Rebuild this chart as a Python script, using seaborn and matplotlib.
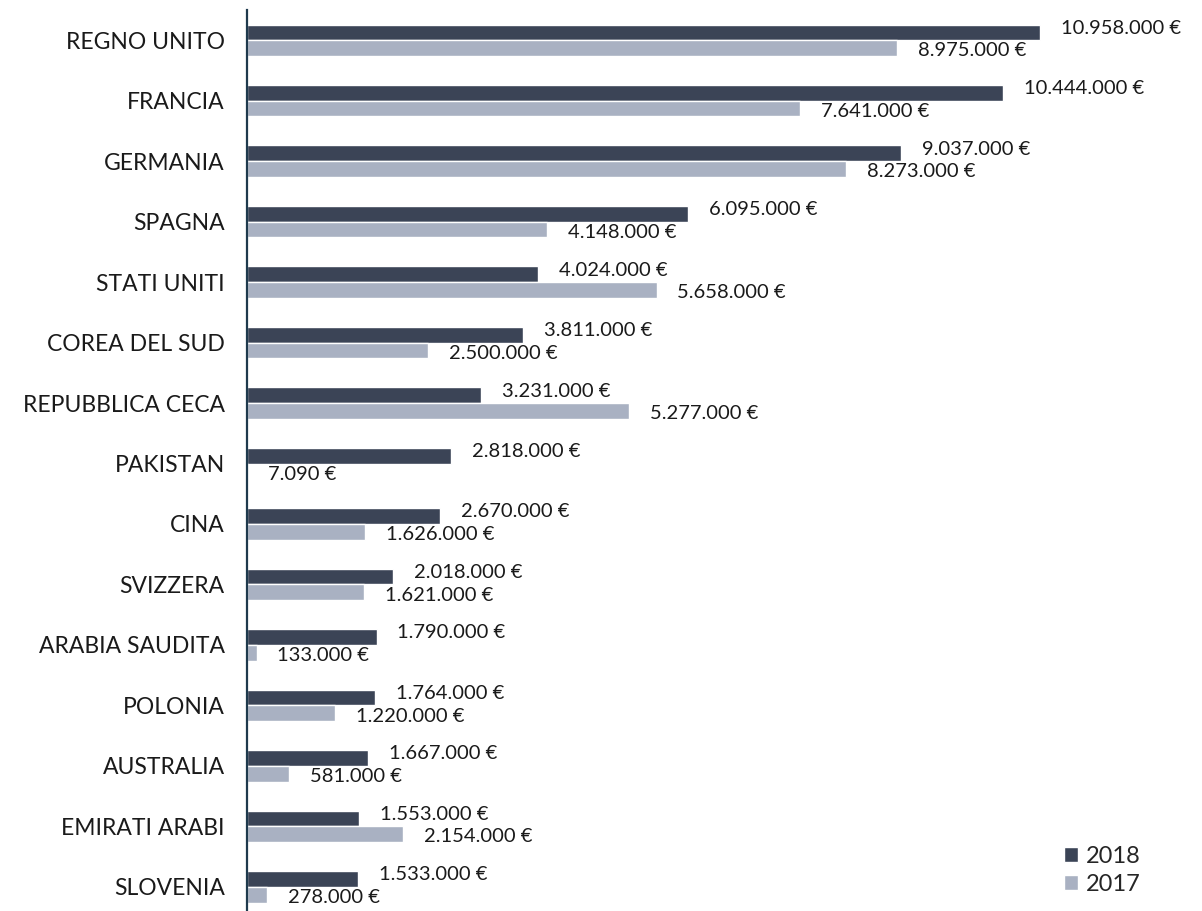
import numpy as np
import pandas as pd
import seaborn as sns
import matplotlib.pyplot as plt
from matplotlib.patches import Patch

# -------- DATA --------#
paesi = ['REGNO UNITO', 'FRANCIA', 'GERMANIA', 'SPAGNA', 'STATI UNITI',
         'COREA DEL SUD', 'REPUBBLICA CECA', 'PAKISTAN', 'CINA', 'SVIZZERA',
         'ARABIA SAUDITA', 'POLONIA', 'AUSTRALIA', 'EMIRATI ARABI', 'SLOVENIA']
valori_2018 = [10958000, 10444000, 9037000, 6095000, 4024000, 3811000, 3231000,
               2818000, 2670000, 2018000, 1790000, 1764000, 1667000, 1553000, 1533000]
valori_2017 = [8975000, 7641000, 8273000, 4148000, 5658000, 2500000, 5277000,
               7090, 1626000, 1621000, 133000, 1220000, 581000, 2154000, 278000]
anni = ['2018', '2017']

colori = {'2018': '#3b4456', '2017': '#a9b1c2'}


def euro(v):
    return f'{v:,.0f}'.replace(',', '.') + ' €'


df = pd.DataFrame({
    'paese': paesi * 2,
    'anno': ['2018'] * len(paesi) + ['2017'] * len(paesi),
    'valore': valori_2018 + valori_2017,
})

# -------- PLOT --------#
sns.set_theme(style='white')
plt.rcParams['font.family'] = ['Lato', 'DejaVu Sans']

fig = plt.figure(figsize=(12.02, 9.11), dpi=100)
ax = fig.add_axes([247 / 1202, 0.0, (1195 - 247) / 1202, 1 - 10 / 911])

sns.barplot(data=df, y='paese', x='valore', hue='anno', hue_order=anni,
            order=paesi, palette=colori, width=0.52, orient='h',
            saturation=1, ax=ax, legend=False)

ax.set_xlim(0, (1195 - 247) / 72.4 * 1e6)
ax.set_ylim(14.4, -0.5)

# value labels next to bar ends
for cont, dy in zip(ax.containers, [3, -2]):
    for bar in cont:
        w = bar.get_width()
        yc = bar.get_y() + bar.get_height() / 2
        ax.annotate(euro(w), xy=(w, yc), xytext=(15, dy),
                    textcoords='offset points', ha='left', va='center',
                    fontsize=14.5, color='#1a1a1a')

for s in ['top', 'right', 'bottom']:
    ax.spines[s].set_visible(False)
ax.spines['left'].set_color('#1f3a4d')
ax.spines['left'].set_linewidth(1.6)

ax.set_xticks([])
ax.set_xlabel('')
ax.set_ylabel('')
ax.tick_params(axis='y', length=0, pad=16, labelsize=16.5, labelcolor='#1a1a1a')

handles = [Patch(facecolor=colori[a], label=a) for a in anni]
fig.legend(handles=handles, loc='lower right', bbox_to_anchor=(0.967, -0.006),
           frameon=False, fontsize=17, handlelength=0.6, handleheight=0.6,
           handletextpad=0.35, labelspacing=0.3)

plt.savefig('out.png', dpi=100)
